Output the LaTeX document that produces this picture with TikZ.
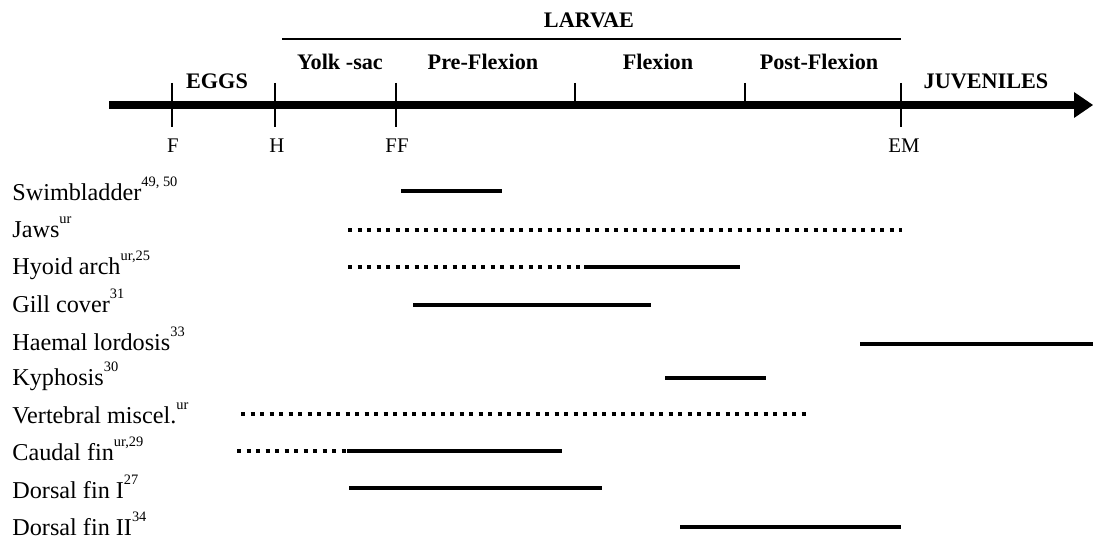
\documentclass[tikz,border=0pt]{standalone}
\usepackage{fontspec}
\setmainfont{Liberation Serif}
\newcommand\sups[1]{\raisebox{6.6pt}{\fontsize{7.2pt}{8pt}\selectfont #1}}
\tikzset{
  lab/.style={anchor=base west, inner sep=0pt, font=\fontsize{12.1pt}{14pt}\selectfont},
  head/.style={inner sep=0pt, font=\fontsize{11.1pt}{13pt}\selectfont\bfseries},
  tlab/.style={inner sep=0pt, font=\fontsize{10.4pt}{12pt}\selectfont},
  bar/.style={line width=2.25pt},
  dotbar/.style={line width=2.25pt, dash pattern=on 2pt off 2.75pt},
  tick/.style={line width=1pt},
  axis/.style={line width=4.4pt},
}
\begin{document}
\begin{tikzpicture}[x=0.5pt,y=-0.5pt]
\useasboundingbox (0,0) rectangle (1093,540);
% axis
\coordinate (a0) at (109,105);
\coordinate (a1) at (1076,105);
\draw[axis] (a0) -- (a1);
\fill (1074,92) -- (1093,105) -- (1074,118) -- cycle;
% ticks
\coordinate (tF1) at (172,83); \coordinate (tF2) at (172,127);
\coordinate (tH1) at (275,83); \coordinate (tH2) at (275,127);
\coordinate (tFF1) at (396,83); \coordinate (tFF2) at (396,127);
\coordinate (tEM1) at (901,83); \coordinate (tEM2) at (901,127);
\coordinate (tA1) at (575,83); \coordinate (tA2) at (575,105);
\coordinate (tB1) at (745,83); \coordinate (tB2) at (745,105);
\draw[tick] (tF1) -- (tF2);
\draw[tick] (tH1) -- (tH2);
\draw[tick] (tFF1) -- (tFF2);
\draw[tick] (tEM1) -- (tEM2);
\draw[tick] (tA1) -- (tA2);
\draw[tick] (tB1) -- (tB2);
% larvae line
\coordinate (l0) at (282,39);
\coordinate (l1) at (901,39);
\draw[line width=1.2pt] (l0) -- (l1);
\node[head] (larvae) at (589,20) {LARVAE};
\node[head] (yolk) at (340,62) {Yolk -sac};
\node[head] (pre) at (483,62) {Pre-Flexion};
\node[head] (flex) at (658,62) {Flexion};
\node[head] (post) at (819,62) {Post-Flexion};
\node[head] (eggs) at (217,81) {EGGS};
\node[head] (juv) at (986,81) {JUVENILES};
\node[tlab] (F) at (173,146) {F};
\node[tlab] (H) at (277,146) {H};
\node[tlab] (FF) at (397,146) {FF};
\node[tlab] (EM) at (904,146) {EM};
% labels
\node[lab] (r1) at (12,200) {Swimbladder\sups{49, 50}};
\node[lab] (r2) at (12,237) {Jaws\sups{ur}};
\node[lab] (r3) at (12,274) {Hyoid arch\sups{ur,25}};
\node[lab] (r4) at (12,312) {Gill cover\sups{31}};
\node[lab] (r5) at (12,350) {Haemal lordosis\sups{33}};
\node[lab] (r6) at (12,385) {Kyphosis\sups{30}};
\node[lab] (r7) at (12,423) {Vertebral miscel.\sups{ur}};
\node[lab] (r8) at (12,460) {Caudal fin\sups{ur,29}};
\node[lab] (r9) at (12,498) {Dorsal fin I\sups{27}};
\node[lab] (r10) at (12,535) {Dorsal fin II\sups{34}};
% bars
\coordinate (s1a) at (401,191); \coordinate (s1b) at (502,191);
\draw[bar] (s1a) -- (s1b);
\coordinate (s2a) at (348,230); \coordinate (s2b) at (902,230);
\draw[dotbar] (s2a) -- (s2b);
\coordinate (s3a) at (348,267); \coordinate (s3b) at (584,267); \coordinate (s3c) at (740,267);
\draw[dotbar] (s3a) -- (s3b);
\draw[bar] (s3b) -- (s3c);
\coordinate (s4a) at (413,305); \coordinate (s4b) at (651,305);
\draw[bar] (s4a) -- (s4b);
\coordinate (s5a) at (860,344); \coordinate (s5b) at (1093,344);
\draw[bar] (s5a) -- (s5b);
\coordinate (s6a) at (665,378); \coordinate (s6b) at (766,378);
\draw[bar] (s6a) -- (s6b);
\coordinate (s7a) at (241,414); \coordinate (s7b) at (808,414);
\draw[dotbar] (s7a) -- (s7b);
\coordinate (s8a) at (237,451); \coordinate (s8b) at (347,451); \coordinate (s8c) at (562,451);
\draw[dotbar] (s8a) -- (s8b);
\draw[bar] (s8b) -- (s8c);
\coordinate (s9a) at (349,488); \coordinate (s9b) at (602,488);
\draw[bar] (s9a) -- (s9b);
\coordinate (s10a) at (680,527); \coordinate (s10b) at (901,527);
\draw[bar] (s10a) -- (s10b);
\end{tikzpicture}
\end{document}
